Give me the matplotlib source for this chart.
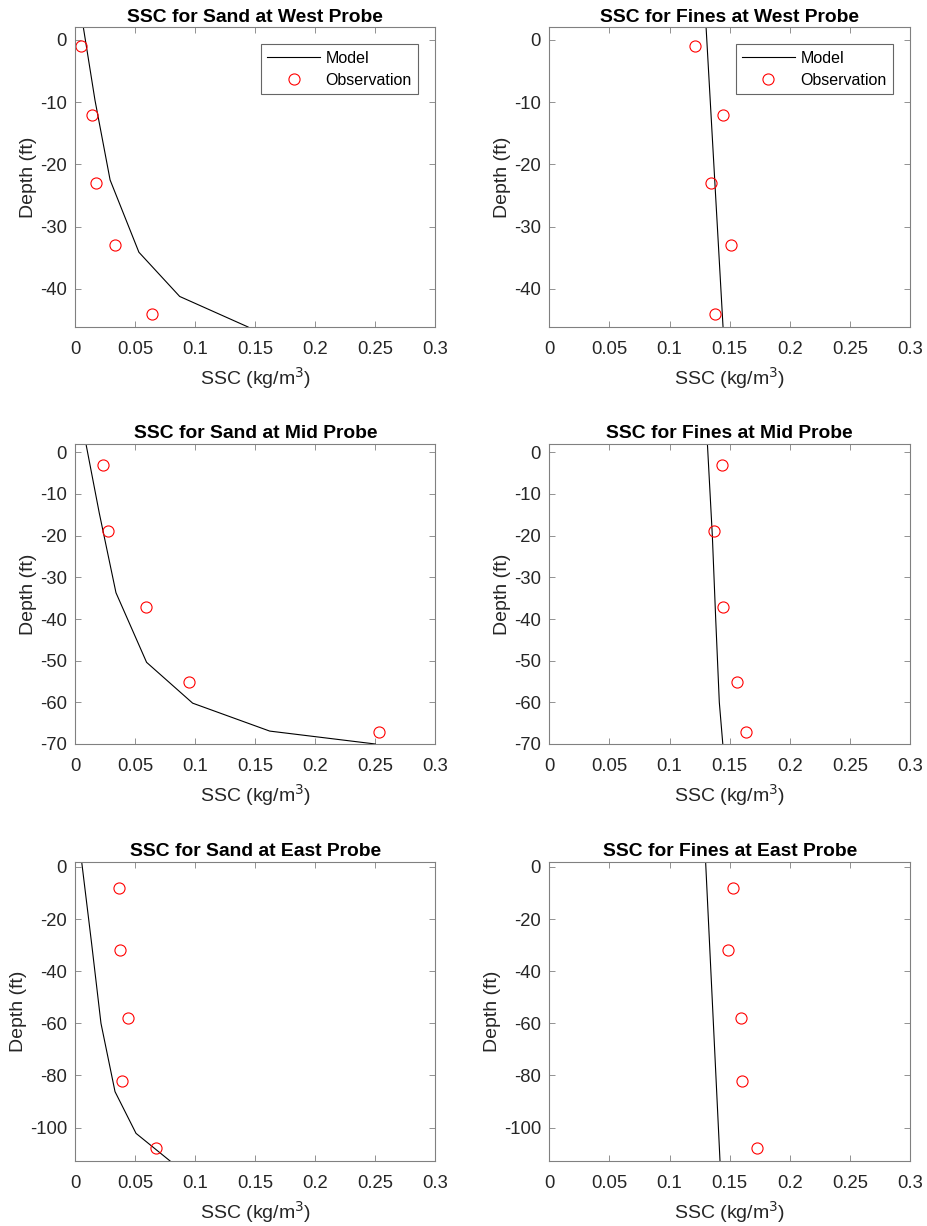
import matplotlib
matplotlib.use("Agg")
import matplotlib.pyplot as plt

plt.rcParams['font.family'] = ['Liberation Sans', 'DejaVu Sans']
plt.rcParams['axes.unicode_minus'] = False

# ---------------- data ----------------
titles = [
    ["SSC for Sand at West Probe", "SSC for Fines at West Probe"],
    ["SSC for Sand at Mid Probe", "SSC for Fines at Mid Probe"],
    ["SSC for Sand at East Probe", "SSC for Fines at East Probe"],
]

# West probe
west_sand_model_x = [0.0067, 0.0164, 0.029, 0.053, 0.087, 0.144]
west_sand_model_y = [2, -9.7, -22.5, -34.1, -41.2, -46.1]
west_sand_obs_x = [0.0045, 0.0136, 0.0175, 0.0333, 0.0636]
west_sand_obs_y = [-1, -12, -23, -33, -44]

west_fines_model_x = [0.1304, 0.1445]
west_fines_model_y = [2, -46.1]
west_fines_obs_x = [0.121, 0.1448, 0.1343, 0.1509, 0.1381]
west_fines_obs_y = [-1, -12, -23, -33, -44]

# Mid probe
mid_sand_model_x = [0.0089, 0.020, 0.0339, 0.0594, 0.0978, 0.162, 0.25]
mid_sand_model_y = [2, -14.6, -33.7, -50.4, -60.2, -66.9, -70]
mid_sand_obs_x = [0.0228, 0.027, 0.0592, 0.0945, 0.253]
mid_sand_obs_y = [-3, -19, -37, -55, -67]

mid_fines_model_x = [0.1315, 0.1356, 0.1384, 0.1414, 0.1443]
mid_fines_model_y = [2, -20, -40, -60, -70]
mid_fines_obs_x = [0.1434, 0.1373, 0.1448, 0.156, 0.1639]
mid_fines_obs_y = [-3, -19, -37, -55, -67]

# East probe
east_sand_model_x = [0.0053, 0.0136, 0.0214, 0.0331, 0.0506, 0.079]
east_sand_model_y = [2, -29.4, -60, -86.2, -102.2, -112.8]
east_sand_obs_x = [0.0364, 0.0375, 0.0442, 0.0389, 0.0672]
east_sand_obs_y = [-8, -32, -58, -82, -108]

east_fines_model_x = [0.130, 0.142]
east_fines_model_y = [2, -113]
east_fines_obs_x = [0.1528, 0.149, 0.1592, 0.1603, 0.173]
east_fines_obs_y = [-8, -32, -58, -82, -108]

xticks = [0, 0.05, 0.1, 0.15, 0.2, 0.25, 0.3]
xticklabels = ["0", "0.05", "0.1", "0.15", "0.2", "0.25", "0.3"]
row_ylims = [(-46.1, 2), (-70, 2), (-112.8, 2)]
row_yticks = [[-40, -30, -20, -10, 0],
              [-70, -60, -50, -40, -30, -20, -10, 0],
              [-100, -80, -60, -40, -20, 0]]

panels = [
    [(west_sand_model_x, west_sand_model_y, west_sand_obs_x, west_sand_obs_y),
     (west_fines_model_x, west_fines_model_y, west_fines_obs_x, west_fines_obs_y)],
    [(mid_sand_model_x, mid_sand_model_y, mid_sand_obs_x, mid_sand_obs_y),
     (mid_fines_model_x, mid_fines_model_y, mid_fines_obs_x, mid_fines_obs_y)],
    [(east_sand_model_x, east_sand_model_y, east_sand_obs_x, east_sand_obs_y),
     (east_fines_model_x, east_fines_model_y, east_fines_obs_x, east_fines_obs_y)],
]

# ---------------- layout ----------------
W, H = 927, 1226
fig = plt.figure(figsize=(W / 100, H / 100), dpi=100)

col_x = [(75.3, 435.3), (549.3, 910.0)]
row_y = [(27.3, 327.0), (444.0, 744.0), (861.7, 1161.0)]

txt_col = '#262626'
spine_col = '#808080'

for r in range(3):
    for c in range(2):
        x0, x1 = col_x[c]
        y0, y1 = row_y[r]
        ax = fig.add_axes([x0 / W, 1 - y1 / H, (x1 - x0) / W, (y1 - y0) / H])
        mx, my, ox, oy = panels[r][c]
        ax.plot(mx, my, color='black', lw=0.8, label='Model')
        ax.plot(ox, oy, linestyle='none', marker='o', markersize=8,
                markerfacecolor='none', markeredgecolor='#ff0000',
                markeredgewidth=0.8, label='Observation')
        ax.set_xlim(0, 0.3)
        ax.set_ylim(*row_ylims[r])
        ax.set_xticks(xticks)
        ax.set_xticklabels(xticklabels)
        ax.set_yticks(row_yticks[r])
        ax.tick_params(direction='in', top=True, right=True, length=4,
                       width=0.6, colors=txt_col, labelsize=13.3,
                       color=spine_col)
        ax.tick_params(axis='x', pad=10)
        ax.tick_params(axis='y', pad=6)
        for s in ax.spines.values():
            s.set_color(spine_col)
            s.set_linewidth(0.8)
        ax.set_title(titles[r][c], fontsize=13.9, fontweight='bold',
                     color='black', pad=4)
        ax.set_xlabel('SSC (kg/m$^3$)', fontsize=14, color=txt_col, labelpad=5)
        ax.set_ylabel('Depth (ft)', fontsize=14, color=txt_col, labelpad=2)
        if r == 0:
            leg = ax.legend(loc='upper right',
                            bbox_to_anchor=(1 - 17 / 360, 1 - 17 / 300),
                            borderaxespad=0, fontsize=11.5, frameon=True,
                            fancybox=False, edgecolor='#404040',
                            handlelength=3.3, handletextpad=0.35,
                            borderpad=0.4, labelspacing=0.45)
            leg.get_frame().set_linewidth(0.8)

fig.savefig('out.png', dpi=100, facecolor='white')
